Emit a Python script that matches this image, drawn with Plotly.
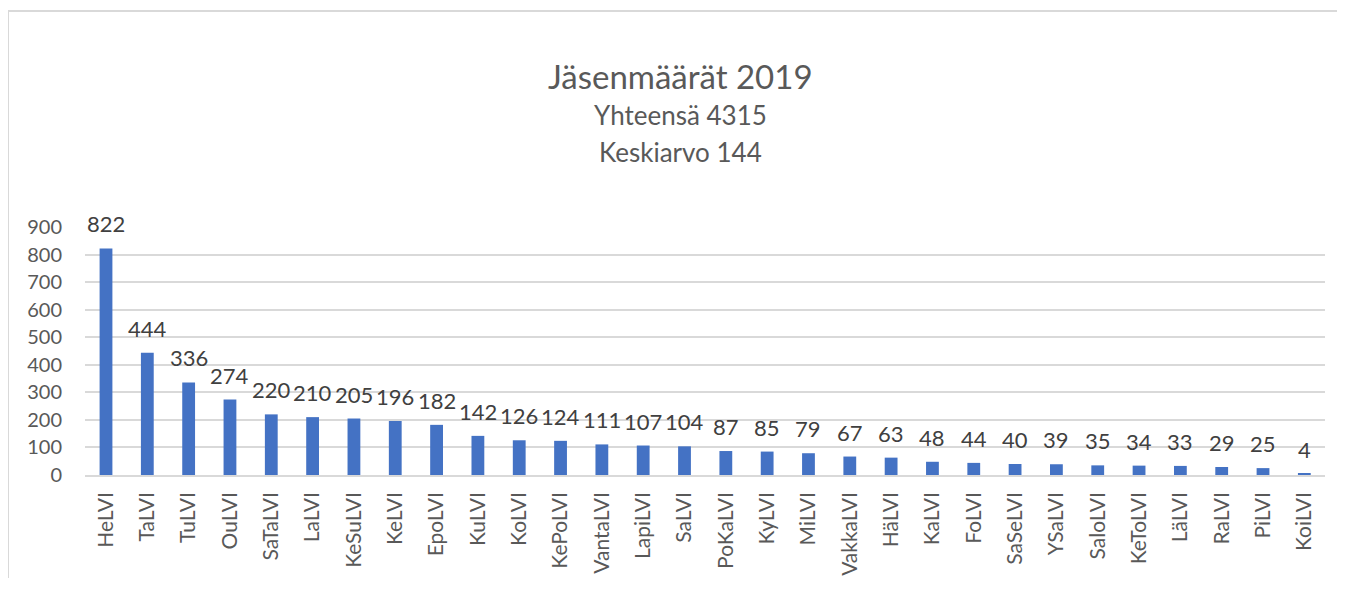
import plotly.graph_objects as go

categories = ["HeLVI", "TaLVI", "TuLVI", "OuLVI", "SaTaLVI", "LaLVI", "KeSuLVI", "KeLVI",
              "EpoLVI", "KuLVI", "KoLVI", "KePoLVI", "VantaLVI", "LapiLVI", "SaLVI",
              "PoKaLVI", "KyLVI", "MiLVI", "VakkaLVI", "HäLVI", "KaLVI", "FoLVI",
              "SaSeLVI", "YSaLVI", "SaloLVI", "KeToLVI", "LäLVI", "RaLVI", "PiLVI", "KoiLVI"]
members = [822, 444, 336, 274, 220, 210, 205, 196, 182, 142, 126, 124, 111, 107, 104,
           87, 85, 79, 67, 63, 48, 44, 40, 39, 35, 34, 33, 29, 25, 4]
y_ticks = [0, 100, 200, 300, 400, 500, 600, 700, 800, 900]

title_text = "Jäsenmäärät 2019"
subtitle_lines = ["Yhteensä 4315", "Keskiarvo 144"]

FONT = "Lato"
BAR = "#4472C4"
GRID = "#d9d9d9"
TXT = "#595959"
LBL = "#404040"

fig = go.Figure()
fig.add_trace(go.Bar(x=categories, y=members, marker_color=BAR, marker_line_width=0,
                     hoverinfo="x+y"))

for c, v in zip(categories, members):
    fig.add_annotation(x=c, y=v, text=str(v), showarrow=False, yanchor="bottom",
                       yshift=9, font=dict(family=FONT, size=22, color=LBL))

fig.add_annotation(x=0.4806, y=1.609, xref="paper", yref="paper", text=title_text,
                   showarrow=False, yanchor="middle",
                   font=dict(family=FONT, size=33, color=TXT))
for i, line in enumerate(subtitle_lines):
    fig.add_annotation(x=0.4806, y=[1.4496, 1.3044][i], xref="paper", yref="paper",
                       text=line, showarrow=False, yanchor="middle",
                       font=dict(family=FONT, size=26, color=TXT))

# chart-area frame (top and left edges visible in the reference)
fig.add_shape(type="line", xref="paper", yref="paper", x0=-0.0621, x1=1.02,
              y0=1.871, y1=1.871, line=dict(color=GRID, width=2), layer="below")
fig.add_shape(type="line", xref="paper", yref="paper", x0=-0.0621, x1=-0.0621,
              y0=-0.5, y1=1.871, line=dict(color=GRID, width=2), layer="below")

fig.update_layout(
    width=1329, height=570,
    margin=dict(l=77, r=12, t=219, b=103, autoexpand=False),
    paper_bgcolor="white", plot_bgcolor="white",
    bargap=0.69, showlegend=False,
    font=dict(family=FONT, color=TXT),
)
fig.update_yaxes(range=[0, 900], tickvals=y_ticks, showgrid=True, gridcolor=GRID,
                 gridwidth=1.5, zeroline=False, showline=False, ticks="", automargin=False,
                 ticklabelstandoff=22, tickfont=dict(family=FONT, size=20, color=TXT))
fig.update_xaxes(tickangle=-90, showline=True, linecolor=GRID, linewidth=1.5,
                 ticks="", ticklabelstandoff=7, showgrid=False, automargin=False,
                 tickfont=dict(family=FONT, size=21, color=TXT))

fig.write_html("out.html")
